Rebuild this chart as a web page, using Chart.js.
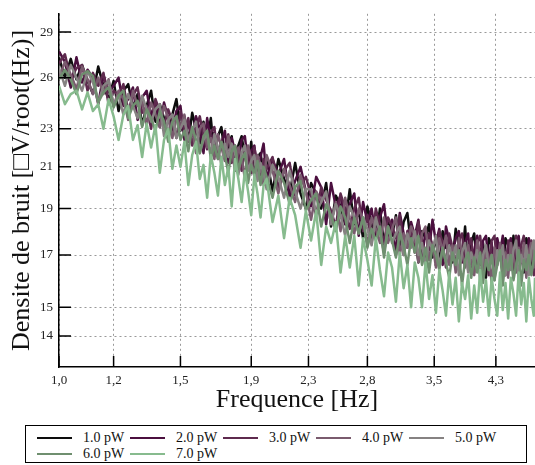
<!DOCTYPE html>
<html>
<head>
<meta charset="utf-8">
<script src="https://cdn.jsdelivr.net/npm/chart.js@4/dist/chart.umd.min.js"></script>
<style>
  body { margin: 0; background: #fff; }
  #wrap { position: absolute; left: 0; top: 0; width: 535px; height: 420px; }
  #legend {
    position: absolute; left: 25px; top: 425px; width: 502px; height: 38px;
    border: 1px solid #000; box-sizing: border-box;
    display: flex; flex-wrap: wrap; padding: 4px 0 0 11px;
    font: 14px "Liberation Serif", serif; color: #111;
  }
  .item { display: flex; align-items: center; width: 93px; height: 16px; }
  .item span.line { display: inline-block; width: 35px; height: 2px; margin-right: 11px; }
</style>
</head>
<body>
<div id="wrap"><canvas id="chart"></canvas></div>
<div id="legend"></div>
<script>
// frequency axis [Hz]
const freq = [1.00,1.02,1.04,1.06,1.08,1.10,1.12,1.14,1.16,1.18,
  1.20,1.22,1.24,1.26,1.28,1.30,1.32,1.34,1.36,1.38,
  1.40,1.42,1.44,1.46,1.48,1.50,1.52,1.54,1.56,1.58,
  1.60,1.62,1.64,1.66,1.68,1.70,1.72,1.74,1.76,1.78,
  1.80,1.82,1.84,1.86,1.88,1.90,1.92,1.94,1.96,1.98,
  2.00,2.04,2.08,2.12,2.16,2.20,2.24,2.28,2.32,2.36,
  2.40,2.44,2.48,2.52,2.56,2.60,2.64,2.68,2.72,2.76,
  2.80,2.84,2.88,2.92,2.96,3.00,3.04,3.08,3.12,3.16,
  3.20,3.24,3.28,3.32,3.36,3.40,3.44,3.48,3.52,3.56,
  3.60,3.64,3.68,3.72,3.76,3.80,3.84,3.88,3.92,3.96,
  4.00,4.04,4.08,4.12,4.16,4.20,4.24,4.28,4.32,4.36,
  4.40,4.44,4.48,4.52,4.56,4.60,4.64,4.68,4.72,4.76,
  4.80,4.84,4.88,4.90];

const p1 = [27.3,26.0,27.2,25.9,26.8,25.8,25.0,26.7,25.5,24.7,
  25.8,24.0,25.2,25.6,24.2,25.0,23.2,24.3,25.2,23.4,
  24.4,23.6,22.6,23.8,24.7,22.9,23.7,22.3,23.9,23.0,
  22.2,23.4,22.2,23.6,21.6,22.6,23.1,21.5,22.1,22.6,
  20.8,22.1,22.6,21.5,20.9,22.3,20.5,21.5,21.7,20.6,
  21.5,19.8,21.4,20.4,19.7,21.2,19.7,19.0,20.2,19.7,
  19.0,20.2,18.2,19.6,19.1,18.3,19.9,18.3,18.9,17.7,
  19.1,18.3,17.7,19.0,17.4,18.4,17.8,18.7,17.3,18.4,
  18.8,17.4,17.9,16.7,18.0,17.7,18.3,16.9,17.8,16.6,
  18.0,17.3,17.7,16.7,18.1,17.4,16.8,18.2,16.4,17.5,
  17.9,16.5,17.1,17.5,16.1,17.7,17.4,16.7,17.6,17.0,
  16.3,17.7,17.4,16.5,17.8,16.7,17.5,17.1,16.3,17.7,
  17.3,16.5,17.5,17.1];

const p2 = [27.7,27.0,25.4,27.3,25.7,26.5,26.0,24.4,26.2,25.1,
  25.5,26.0,24.3,24.7,25.4,23.5,24.8,25.2,23.7,24.6,
  23.1,24.5,23.6,22.9,24.0,24.3,22.4,23.3,22.6,23.7,
  23.0,21.7,23.6,22.3,22.8,21.7,22.2,22.9,21.2,22.5,
  21.8,21.2,22.4,22.6,21.1,21.8,22.1,20.4,21.5,22.2,
  20.4,21.4,20.6,21.4,19.5,20.3,21.0,19.8,19.1,20.5,
  20.0,18.3,20.2,19.1,19.6,18.3,19.2,19.7,17.8,19.3,
  18.4,19.0,17.7,18.6,19.2,17.7,18.5,17.0,18.8,17.9,
  17.3,18.4,17.8,18.5,16.9,18.0,17.2,18.5,17.5,18.1,
  16.6,18.2,17.6,17.0,17.7,18.0,16.7,17.5,17.9,16.4,
  17.2,17.8,16.6,17.6,17.8,16.7,17.5,16.3,17.7,17.1,
  17.8,16.5,17.3,17.7,16.3,17.5,17.8,16.7,17.3,16.3,
  17.7,17.1,16.5,17.5];

const p3 = [26.9,27.5,25.9,26.6,26.8,25.2,26.3,25.5,26.3,24.4,
  25.2,24.9,25.6,24.0,24.9,25.4,23.9,24.3,23.0,24.7,
  24.0,23.2,24.1,23.4,22.5,24.0,22.9,23.6,22.1,23.0,
  23.7,22.6,21.9,22.8,23.1,21.4,22.3,22.0,22.7,21.2,
  22.1,21.6,20.8,22.1,21.6,20.7,22.0,21.1,20.3,21.4,
  20.9,21.5,20.0,20.8,21.2,19.6,20.1,20.5,19.6,18.7,
  20.0,19.4,18.9,18.2,19.7,19.0,18.1,19.0,19.5,18.0,
  18.7,17.5,19.0,18.2,17.5,18.6,18.2,17.7,18.7,17.0,
  18.0,18.1,17.1,18.4,17.6,16.7,17.9,17.4,16.8,18.0,
  17.5,16.5,17.9,17.3,16.6,17.6,17.9,16.8,17.3,17.7,
  16.3,17.5,17.8,16.7,17.2,16.2,17.6,17.8,16.6,17.4,
  17.0,16.2,17.6,17.2,16.4,17.8,16.8,17.4,17.8,16.6,
  17.2,17.6,16.2,17.2];

const p4 = [26.0,27.0,26.2,25.3,26.7,25.9,25.0,26.0,25.0,25.9,
  24.3,25.2,24.7,23.5,25.2,24.3,24.6,23.2,24.5,23.8,
  23.1,24.3,23.6,22.5,23.6,23.1,23.8,22.3,23.0,21.7,
  23.0,23.3,22.0,22.5,21.4,22.7,22.0,21.3,22.6,21.9,
  20.8,22.0,21.5,20.4,22.1,21.4,20.5,21.6,21.0,20.1,
  21.6,20.8,19.7,20.9,20.1,19.3,20.6,19.8,18.5,19.8,
  19.3,19.7,18.4,19.3,18.0,19.5,18.6,17.9,19.0,18.5,
  17.4,18.6,18.1,17.5,18.6,17.5,18.1,18.6,17.0,17.9,
  17.3,18.2,17.8,16.7,17.9,18.2,16.8,17.5,16.5,17.7,
  17.2,17.8,16.6,17.4,16.3,17.7,17.1,16.5,17.4,16.8,
  16.2,17.6,17.0,16.4,17.3,16.9,15.9,17.3,16.7,17.5,
  16.3,17.1,16.1,17.5,16.9,16.3,17.3,16.7,17.5,16.1,
  17.1,17.5,16.5,17.3];

const p5 = [26.6,25.5,26.8,26.0,25.2,26.4,25.7,24.5,25.5,25.8,
  24.4,24.9,23.8,25.0,24.3,23.6,24.9,24.1,23.4,24.1,
  24.4,22.6,23.5,23.8,22.5,23.0,23.5,22.4,22.9,23.4,
  21.7,22.4,22.7,21.6,22.7,22.0,21.1,22.2,21.5,22.2,
  21.7,20.6,21.7,22.1,20.8,21.3,21.6,20.3,21.2,20.7,
  19.9,21.1,20.5,19.5,20.8,19.8,19.0,19.9,19.9,18.8,
  19.3,19.8,18.3,19.2,18.7,17.8,19.1,18.6,17.9,18.6,
  18.1,17.4,18.6,17.9,17.1,18.2,17.5,17.9,18.2,17.0,
  17.9,17.3,18.0,17.0,17.5,16.5,17.6,17.2,17.8,16.5,
  17.3,16.7,17.4,16.8,17.4,16.2,17.1,17.5,16.3,17.1,
  16.7,17.2,16.0,17.0,17.4,16.4,17.0,16.0,17.2,16.8,
  17.4,16.2,17.0,16.4,17.2,17.6,16.0,17.0,16.6,17.4,
  16.2,17.2,17.6,16.8];

const p6 = [25.9,26.5,25.9,25.0,26.2,26.4,26.1,24.5,25.1,25.4,
  24.2,24.9,25.2,23.6,24.3,24.6,23.1,24.1,23.6,22.9,
  24.0,23.4,22.3,23.4,23.7,22.4,22.9,21.8,23.1,22.4,
  21.7,22.6,22.9,21.4,22.1,21.4,22.3,21.6,20.7,21.8,
  22.1,20.9,21.4,21.7,20.2,21.1,20.6,21.3,20.1,21.0,
  20.5,19.5,20.8,20.2,19.2,20.0,20.3,18.9,19.4,19.7,
  18.2,19.2,18.7,18.0,19.1,18.6,17.5,18.6,17.9,18.6,
  17.3,18.1,17.6,18.2,16.9,18.2,17.6,16.9,17.9,17.4,
  16.6,17.7,17.1,17.8,16.6,17.3,16.3,17.4,17.0,16.4,
  17.3,16.7,16.1,17.1,16.6,17.2,15.8,16.8,17.1,16.1,
  16.9,16.3,17.1,15.9,16.8,16.4,17.0,16.0,16.6,17.2,
  15.8,16.8,16.4,17.0,16.0,16.6,17.2,15.8,16.8,16.4,
  17.0,16.2,16.8,17.2];

const p7 = [25.5,24.4,25.0,25.2,24.1,25.1,24.0,24.4,23.0,24.7,
  23.7,22.4,23.8,24.3,22.4,23.2,21.5,23.3,22.0,23.2,
  20.7,22.4,23.0,20.9,22.1,21.0,22.3,20.1,21.6,22.3,
  20.4,21.1,19.5,21.6,20.7,19.6,21.5,20.1,21.0,19.1,
  21.4,20.4,19.3,20.8,19.8,18.7,20.6,19.7,18.6,20.1,
  20.4,18.4,19.6,17.7,19.5,18.7,17.3,18.9,17.6,18.9,
  16.6,18.2,17.5,18.4,16.3,17.8,16.5,17.8,15.8,17.7,
  16.8,15.8,17.7,16.4,15.4,17.1,16.5,15.2,17.1,15.7,
  16.6,15.0,16.7,16.1,15.0,16.7,15.3,16.2,14.8,16.4,
  15.6,14.7,16.3,15.1,16.1,14.5,15.9,15.3,16.2,14.6,
  15.8,14.8,16.4,15.2,16.0,14.7,16.1,15.3,14.7,16.3,
  14.9,15.9,14.6,16.1,15.5,14.7,16.3,15.1,15.9,14.5,
  16.1,15.3,14.7,16.1];

const labels = ["1.0 pW", "2.0 pW", "3.0 pW", "4.0 pW", "5.0 pW", "6.0 pW", "7.0 pW"];
const colors = ["#0d0d0d", "#4b0f3f", "#5e2a4e", "#7a5b6e", "#868282", "#6f8f6f", "#87bb8e"];
const series = [p1, p2, p3, p4, p5, p6, p7];

const xTicks = [1.0, 1.2, 1.5, 1.9, 2.3, 2.8, 3.5, 4.3];
const yTicks = [14, 15, 17, 19, 21, 23, 26, 29];

const serif = "'Liberation Serif', 'DejaVu Serif', serif";

// ticks pointing into the plot, like the original
const innerTicks = {
  id: "innerTicks",
  afterDatasetsDraw(chart) {
    const { ctx, chartArea: a, scales: { x, y } } = chart;
    ctx.save();
    ctx.strokeStyle = "#000";
    ctx.lineWidth = 1.5;
    ctx.beginPath();
    x.ticks.forEach(t => {
      const p = x.getPixelForValue(t.value);
      ctx.moveTo(p, a.bottom); ctx.lineTo(p, a.bottom - 11);
    });
    y.ticks.forEach(t => {
      const p = y.getPixelForValue(t.value);
      ctx.moveTo(a.left, p); ctx.lineTo(a.left + 12, p);
    });
    ctx.stroke();
    ctx.restore();
  }
};

const datasets = series.map((s, i) => ({
  label: labels[i],
  data: s.map((v, k) => ({ x: freq[k], y: v })),
  borderColor: colors[i],
  backgroundColor: colors[i],
  borderWidth: 2.5,
  borderJoinStyle: "round",
  pointRadius: 0,
  tension: 0,
  order: series.length - i
}));

new Chart(document.getElementById("chart"), {
  type: "line",
  data: { datasets },
  options: {
    responsive: true,
    maintainAspectRatio: false,
    animation: false,
    layout: { padding: { top: 7, right: 0, left: 0, bottom: 0 } },
    plugins: { legend: { display: false }, tooltip: { enabled: false } },
    scales: {
      x: {
        type: "logarithmic",
        min: 1.0,
        max: 4.9,
        afterBuildTicks: s => { s.ticks = xTicks.map(v => ({ value: v })); },
        afterFit: s => { s.height = 53; },
        ticks: {
          autoSkip: false, maxRotation: 0, padding: 6,
          font: { family: serif, size: 13 }, color: "#222",
          callback: v => v.toFixed(1).replace(".", ",")
        },
        grid: { color: "#999", lineWidth: 1, drawTicks: false },
        border: { color: "#000", width: 1.5, dash: [2, 3] },
        title: {
          display: true, text: "Frequence [Hz]", color: "#111",
          font: { family: serif, size: 26 }, padding: { top: 0, bottom: 4 }
        }
      },
      y: {
        type: "logarithmic",
        min: 13,
        max: 30.3,
        afterBuildTicks: s => { s.ticks = yTicks.map(v => ({ value: v })); },
        afterFit: s => { s.width = 59; },
        ticks: {
          autoSkip: false, padding: 6,
          font: { family: serif, size: 13 }, color: "#222",
          callback: v => String(v)
        },
        grid: { color: "#999", lineWidth: 1, drawTicks: false },
        border: { color: "#000", width: 1.5, dash: [2, 3] },
        title: {
          display: true, text: "Densite de bruit [\u25A1V/root(Hz)]", color: "#111",
          font: { family: serif, size: 26 }, padding: { top: 7, bottom: 0 }
        }
      }
    }
  },
  plugins: [innerTicks]
});

// legend box under the plot
const legend = document.getElementById("legend");
labels.forEach((l, i) => {
  const item = document.createElement("div");
  item.className = "item";
  item.innerHTML = `<span class="line" style="background:${colors[i]}"></span><span>${l}</span>`;
  legend.appendChild(item);
});
</script>
</body>
</html>
